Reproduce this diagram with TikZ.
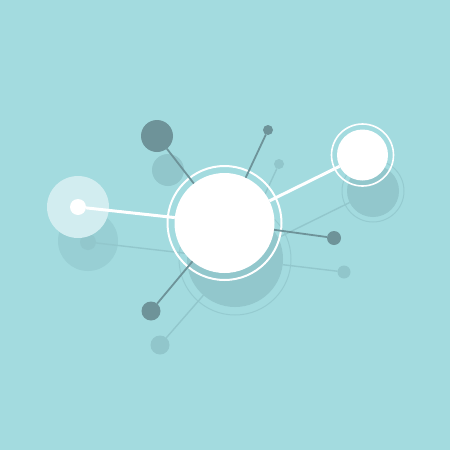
\documentclass[tikz,border=0pt]{standalone}
\begin{document}
\begin{tikzpicture}[x=1pt,y=-1pt,
  dot/.style={circle,inner sep=0pt,outer sep=0pt,draw=none},
  shline/.style={draw=sh,line width=1.4pt},
  shring/.style={draw=shr,line width=1pt},
  darkline/.style={draw=dk,line width=1.8pt},
  whiteline/.style={draw=white,line width=3pt}]
\definecolor{bg}{HTML}{A3DBDF}
\definecolor{sh}{HTML}{92C7CC}
\definecolor{shr}{HTML}{95CBD0}
\definecolor{shl}{HTML}{98CFD4}
\definecolor{dk}{HTML}{6E9399}
\definecolor{dks}{HTML}{91C6CB}
\definecolor{lt}{HTML}{D2EDF0}
\fill[bg] (0,0) rectangle (450,450);
\useasboundingbox (0,0) rectangle (450,450);
% shadows
\node[dot,fill=shl,minimum size=60pt] (lsb) at (88,241) {};
\node[dot,fill=sh,minimum size=16pt] (lsd) at (88,242) {};
\node[dot,fill=sh,minimum size=96pt] (msh) at (235,259) {};
\node[dot,shring,minimum size=112pt] (mshr) at (235,259) {};
\node[dot,fill=sh,minimum size=52pt] (rsh) at (373,191) {};
\node[dot,shring,minimum size=62pt] (rshr) at (373,191) {};
\node[dot,fill=dks,minimum size=32pt] (tls) at (168,170) {};
\node[dot,fill=dks,minimum size=10pt] (trs) at (279,164) {};
\node[dot,fill=dks,minimum size=13pt] (rs) at (344,272) {};
\node[dot,fill=dks,minimum size=19pt] (bls) at (160,345) {};
\draw[shline] (lsd) -- (msh);
\draw[shline] (rsh) -- (msh);
\draw[shline] (rs) -- (msh);
\draw[shline] (trs) -- (msh);
\draw[shline] (bls) -- (msh);
% main
\node[dot,fill=white,minimum size=100pt] (main) at (224.5,223) {};
\node[dot,draw=white,line width=2pt,minimum size=114pt] (mring) at (224.5,223) {};
\node[dot,fill=lt,minimum size=62pt] (lbig) at (78,207) {};
\node[dot,fill=white,minimum size=16pt] (ldot) at (78,207) {};
\node[dot,fill=white,minimum size=51pt] (right) at (362.5,155) {};
\node[dot,draw=white,line width=1.6pt,minimum size=62pt] (rring) at (362.5,155) {};
\node[dot,fill=dk,minimum size=32pt] (tl) at (157,136) {};
\node[dot,fill=dk,minimum size=10pt] (tr) at (268,130) {};
\node[dot,fill=dk,minimum size=14pt] (r) at (334,238) {};
\node[dot,fill=dk,minimum size=19pt] (bl) at (151,311) {};
\draw[whiteline] (ldot) -- (main);
\draw[whiteline] (right) -- (main);
\draw[darkline] (tl) -- (main);
\draw[darkline] (tr) -- (main);
\draw[darkline] (r) -- (main);
\draw[darkline] (bl) -- (main);
\end{tikzpicture}
\end{document}
